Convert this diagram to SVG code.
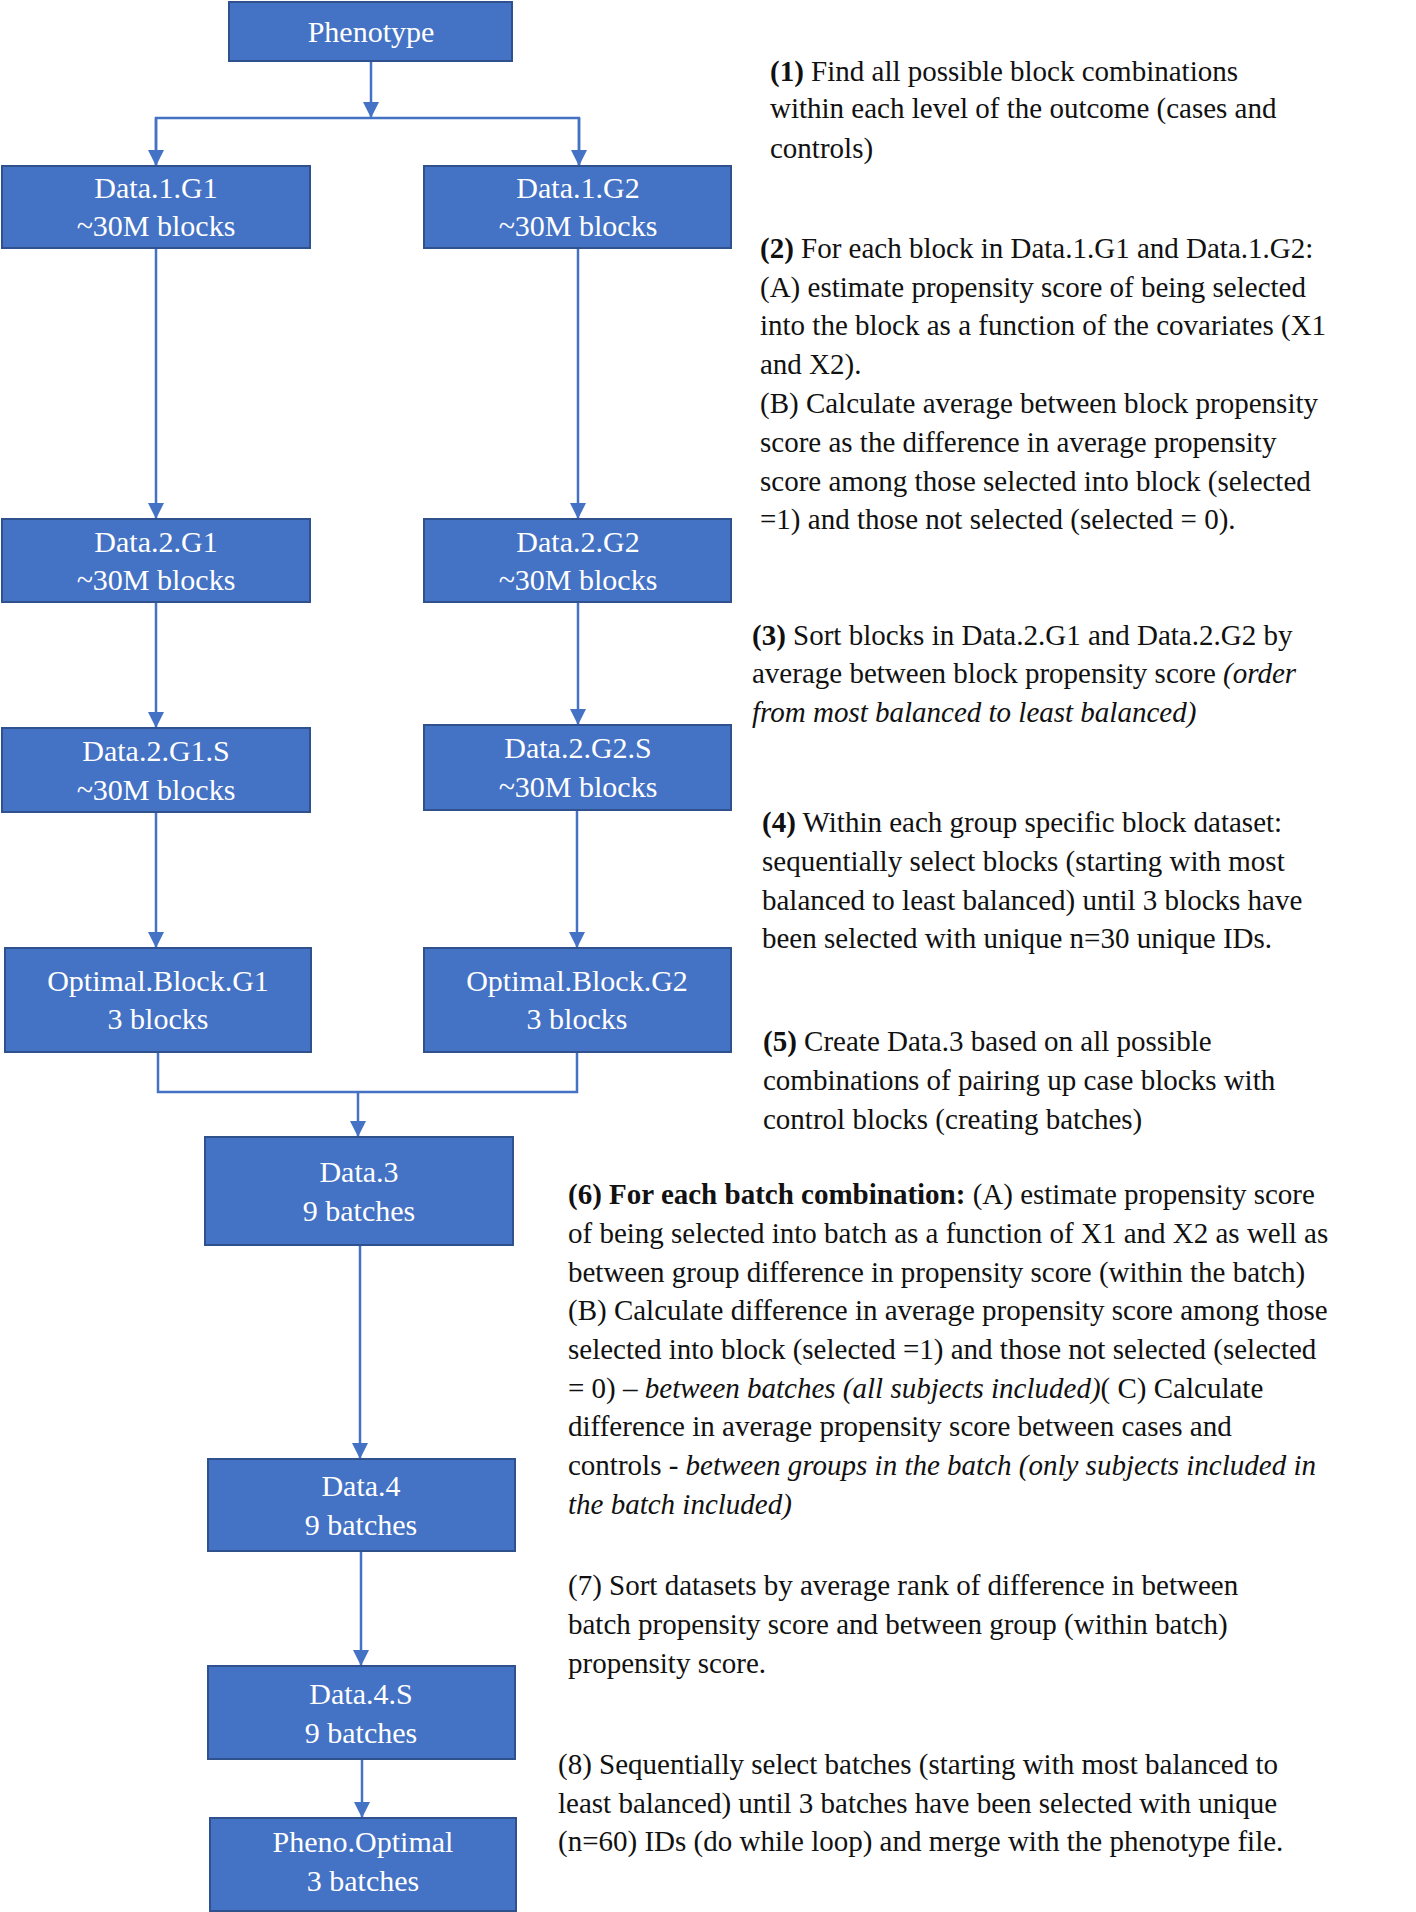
<svg xmlns="http://www.w3.org/2000/svg" width="1416" height="1912" viewBox="0 0 1416 1912">
<style>
.box{fill:#4472C4;stroke:#2F528F;stroke-width:2}
.bt{font-family:'Liberation Serif','Times New Roman','DejaVu Serif',serif;font-size:30px;fill:#fff;text-anchor:middle}
.tx{font-family:'Liberation Serif','Times New Roman','DejaVu Serif',serif;font-size:29px;fill:#111}
.b{font-weight:bold}
.i{font-style:italic}
.c{fill:none;stroke:#4472C4;stroke-width:2.5}
</style>
<defs>
<marker id="a" viewBox="0 0 10 10" refX="10" refY="5" markerWidth="16" markerHeight="16" markerUnits="userSpaceOnUse" orient="auto"><path d="M0,0L10,5L0,10Z" fill="#4472C4"/></marker></defs>
<rect width="1416" height="1912" fill="#fff"/>
<g id="connectors">
<path class="c" d="M371,61V118" marker-end="url(#a)"/>
<path class="c" d="M156,166V118H579V166" />
<path class="c" d="M156,118V166" marker-end="url(#a)"/>
<path class="c" d="M579,118V166" marker-end="url(#a)"/>
<path class="c" d="M156,248V519" marker-end="url(#a)"/>
<path class="c" d="M578,248V519" marker-end="url(#a)"/>
<path class="c" d="M156,602V728" marker-end="url(#a)"/>
<path class="c" d="M578,602V725" marker-end="url(#a)"/>
<path class="c" d="M156,812V948" marker-end="url(#a)"/>
<path class="c" d="M577,810V948" marker-end="url(#a)"/>
<path class="c" d="M158,1052V1092H577V1052"/>
<path class="c" d="M358,1092V1137" marker-end="url(#a)"/>
<path class="c" d="M360,1245V1459" marker-end="url(#a)"/>
<path class="c" d="M361,1551V1666" marker-end="url(#a)"/>
<path class="c" d="M362,1759V1818" marker-end="url(#a)"/>
</g>
<g id="n-pheno"><rect class="box" x="229" y="2" width="283" height="59"/><text class="bt" x="371" y="42">Phenotype</text></g>
<g id="n-d1g1"><rect class="box" x="2" y="166" width="308" height="82"/><text class="bt" x="156" y="198">Data.1.G1</text><text class="bt" x="156" y="236">~30M blocks</text></g>
<g id="n-d1g2"><rect class="box" x="424" y="166" width="307" height="82"/><text class="bt" x="578" y="198">Data.1.G2</text><text class="bt" x="578" y="236">~30M blocks</text></g>
<g id="n-d2g1"><rect class="box" x="2" y="519" width="308" height="83"/><text class="bt" x="156" y="552">Data.2.G1</text><text class="bt" x="156" y="590">~30M blocks</text></g>
<g id="n-d2g2"><rect class="box" x="424" y="519" width="307" height="83"/><text class="bt" x="578" y="552">Data.2.G2</text><text class="bt" x="578" y="590">~30M blocks</text></g>
<g id="n-d2g1s"><rect class="box" x="2" y="728" width="308" height="84"/><text class="bt" x="156" y="761">Data.2.G1.S</text><text class="bt" x="156" y="800">~30M blocks</text></g>
<g id="n-d2g2s"><rect class="box" x="424" y="725" width="307" height="85"/><text class="bt" x="578" y="758">Data.2.G2.S</text><text class="bt" x="578" y="797">~30M blocks</text></g>
<g id="n-og1"><rect class="box" x="5" y="948" width="306" height="104"/><text class="bt" x="158" y="991">Optimal.Block.G1</text><text class="bt" x="158" y="1029">3 blocks</text></g>
<g id="n-og2"><rect class="box" x="424" y="948" width="307" height="104"/><text class="bt" x="577" y="991">Optimal.Block.G2</text><text class="bt" x="577" y="1029">3 blocks</text></g>
<g id="n-d3"><rect class="box" x="205" y="1137" width="308" height="108"/><text class="bt" x="359" y="1182">Data.3</text><text class="bt" x="359" y="1221">9 batches</text></g>
<g id="n-d4"><rect class="box" x="208" y="1459" width="307" height="92"/><text class="bt" x="361" y="1496">Data.4</text><text class="bt" x="361" y="1535">9 batches</text></g>
<g id="n-d4s"><rect class="box" x="208" y="1666" width="307" height="93"/><text class="bt" x="361" y="1704">Data.4.S</text><text class="bt" x="361" y="1743">9 batches</text></g>
<g id="n-po"><rect class="box" x="210" y="1818" width="306" height="93"/><text class="bt" x="363" y="1852">Pheno.Optimal</text><text class="bt" x="363" y="1891">3 batches</text></g>
<g id="notes">
<text class="tx" x="770" y="81"><tspan class="b">(1)</tspan> Find all possible block combinations</text>
<text class="tx" x="770" y="118">within each level of the outcome (cases and</text>
<text class="tx" x="770" y="158">controls)</text>
<text class="tx" x="760" y="258"><tspan class="b">(2)</tspan> For each block in Data.1.G1 and Data.1.G2:</text>
<text class="tx" x="760" y="297">(A) estimate propensity score of being selected</text>
<text class="tx" x="760" y="335">into the block as a function of the covariates (X1</text>
<text class="tx" x="760" y="374">and X2).</text>
<text class="tx" x="760" y="413">(B) Calculate average between block propensity</text>
<text class="tx" x="760" y="452">score as the difference in average propensity</text>
<text class="tx" x="760" y="491">score among those selected into block (selected</text>
<text class="tx" x="760" y="529">=1) and those not selected (selected = 0).</text>
<text class="tx" x="752" y="645"><tspan class="b">(3)</tspan> Sort blocks in Data.2.G1 and Data.2.G2 by</text>
<text class="tx" x="752" y="683">average between block propensity score <tspan class="i">(order</tspan></text>
<text class="tx i" x="752" y="722">from most balanced to least balanced)</text>
<text class="tx" x="762" y="832"><tspan class="b">(4)</tspan> Within each group specific block dataset:</text>
<text class="tx" x="762" y="871">sequentially select blocks (starting with most</text>
<text class="tx" x="762" y="910">balanced to least balanced) until 3 blocks have</text>
<text class="tx" x="762" y="948">been selected with unique n=30 unique IDs.</text>
<text class="tx" x="763" y="1051"><tspan class="b">(5)</tspan> Create Data.3 based on all possible</text>
<text class="tx" x="763" y="1090">combinations of pairing up case blocks with</text>
<text class="tx" x="763" y="1129">control blocks (creating batches)</text>
<text class="tx" x="568" y="1204"><tspan class="b">(6) For each batch combination:</tspan> (A) estimate propensity score</text>
<text class="tx" x="568" y="1243">of being selected into batch as a function of X1 and X2 as well as</text>
<text class="tx" x="568" y="1282">between group difference in propensity score (within the batch)</text>
<text class="tx" x="568" y="1320">(B) Calculate difference in average propensity score among those</text>
<text class="tx" x="568" y="1359">selected into block (selected =1) and those not selected (selected</text>
<text class="tx" x="568" y="1398">= 0) – <tspan class="i">between batches (all subjects included)</tspan>( C) Calculate</text>
<text class="tx" x="568" y="1436">difference in average propensity score between cases and</text>
<text class="tx" x="568" y="1475">controls -  <tspan class="i">between groups in the batch (only subjects included in</tspan></text>
<text class="tx i" x="568" y="1514">the batch included)</text>
<text class="tx" x="568" y="1595">(7) Sort datasets by average rank of difference in between</text>
<text class="tx" x="568" y="1634">batch propensity score and between group (within batch)</text>
<text class="tx" x="568" y="1673">propensity score.</text>
<text class="tx" x="558" y="1774">(8) Sequentially select batches (starting with most balanced to</text>
<text class="tx" x="558" y="1813">least balanced) until 3 batches have been selected with unique</text>
<text class="tx" x="558" y="1851">(n=60) IDs (do while loop) and merge with the phenotype file.</text>
</g>
</svg>
